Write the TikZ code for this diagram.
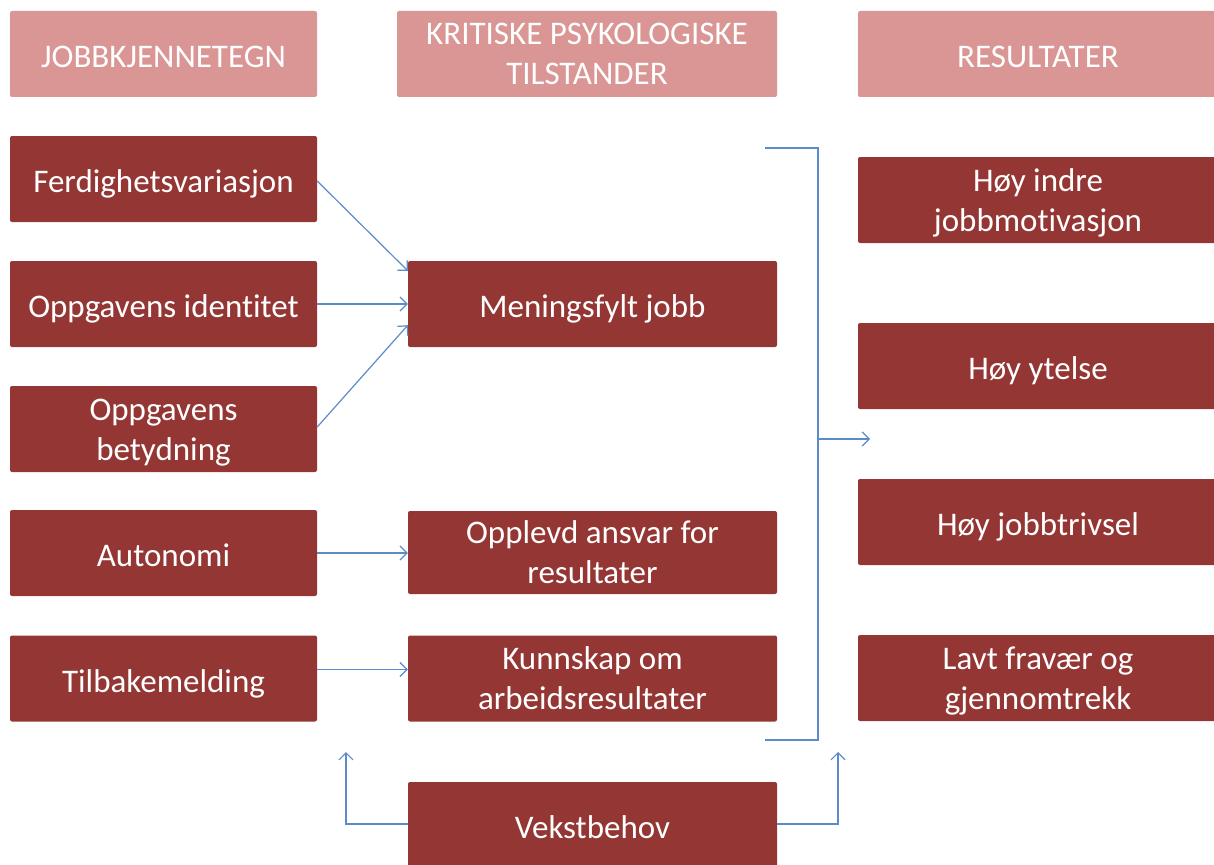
\documentclass[tikz,border=0pt]{standalone}
\usepackage{fontspec}
\setmainfont[Ligatures={NoCommon}]{Carlito}
\usetikzlibrary{arrows.meta,calc}
\definecolor{boxred}{HTML}{943634}
\definecolor{headpink}{HTML}{D99694}
\definecolor{lineblue}{HTML}{5B8BC9}
\newcommand\twolines[2]{\rule{0pt}{30pt}#1\\#2\rule[-8pt]{0pt}{0pt}}
\begin{document}
\begin{tikzpicture}[x=1pt,y=-1pt,
  box/.style={fill=boxred,text=white,inner sep=0pt,align=center,rounded corners=2pt,
    font=\fontsize{33}{40}\selectfont},
  one/.style={execute at begin node={\rule{0pt}{34pt}},
    execute at end node={\rule[-7pt]{0pt}{0pt}}},
  head/.style={box,fill=headpink},
  leftbox/.style={box,minimum width=307pt,minimum height=86pt},
  midbox/.style={box,minimum width=369pt,minimum height=86pt},
  rightbox/.style={box,minimum width=360pt,minimum height=86pt},
  conn/.style={draw=lineblue,line width=1.2pt},
  arr/.style={conn,-{Straight Barb[length=7pt,width=14pt,line width=1.2pt]}}]
\useasboundingbox (0,0) rectangle (1214,864);
\clip (0,0) rectangle (1214,864);
% headers
\node[head,one,minimum width=307pt,minimum height=86pt] (h1) at (163.5,54) {JOBBKJENNETEGN};
\node[head,minimum width=380pt,minimum height=86pt] (h2) at (587,54) {\twolines{KRITISKE PSYKOLOGISKE}{TILSTANDER}};
\node[head,one,minimum width=360pt,minimum height=86pt] (h3) at (1038,54) {RESULTATER};
% left column
\node[leftbox,one] (f) at (163.5,179) {Ferdighetsvariasjon};
\node[leftbox,one] (oi) at (163.5,304) {Oppgavens identitet};
\node[leftbox] (ob) at (163.5,429) {\twolines{Oppgavens}{betydning}};
\node[leftbox,one] (a) at (163.5,553) {Autonomi};
\node[leftbox,one] (t) at (163.5,678.5) {Tilbakemelding};
% middle column
\node[midbox,one] (m) at (592.5,304) {Meningsfylt jobb};
\node[midbox,minimum height=83pt] (o) at (592.5,552.5) {\twolines{Opplevd ansvar for}{resultater}};
\node[midbox] (k) at (592.5,678.5) {\twolines{Kunnskap om}{arbeidsresultater}};
\node[midbox,one] (v) at (592.5,825) {Vekstbehov};
% right column
\node[rightbox] (r1) at (1038,200) {\twolines{Høy indre}{jobbmotivasjon}};
\node[rightbox,one] (r2) at (1038,366) {Høy ytelse};
\node[rightbox,one] (r3) at (1038,522) {Høy jobbtrivsel};
\node[rightbox] (r4) at (1038,678) {\twolines{Lavt fravær og}{gjennomtrekk}};
% arrows left -> middle
\draw[arr] ($(f.east)+(0,2)$) -- ($(m.north west)+(0,10)$);
\draw[arr] (oi.east) -- (oi.east -| m.west);
\draw[arr] ($(ob.east)+(0,-2)$) -- ($(m.south west)+(0,-22)$);
\draw[arr] (a.east) -- (a.east -| o.west);
\draw[arr] ($(t.east)+(0,-9)$) -- ($(t.east -| k.west)+(0,-9)$);
% bracket
\coordinate (bt) at (765,148);
\coordinate (bb) at (765,740);
\coordinate (bx) at (818,439);
\coordinate (bend) at (870,439);
\draw[conn] (bt) -| (bx) |- (bb);
\draw[arr] (bx) -- (bend);
% growth need
\coordinate (vl) at (346,752);
\coordinate (vr) at (838,752);
\draw[arr] ($(v.west)+(0,-1)$) -| (vl);
\draw[arr] ($(v.east)+(0,-1)$) -| (vr);
\end{tikzpicture}
\end{document}
